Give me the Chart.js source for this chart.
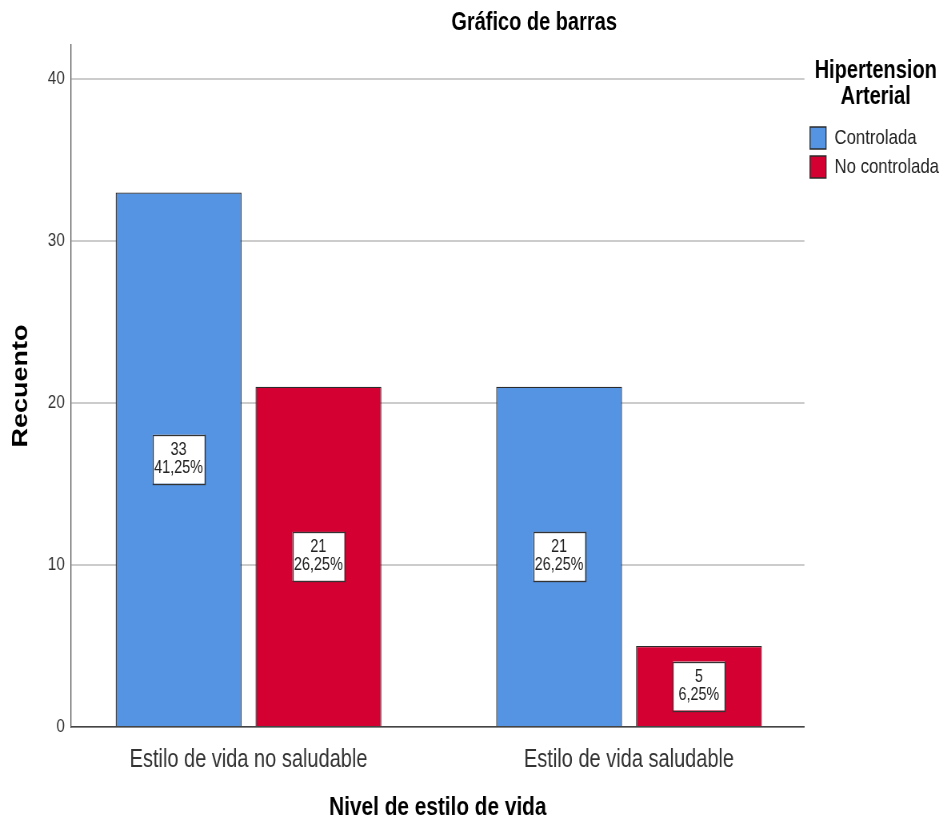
<!DOCTYPE html>
<html>
<head>
<meta charset="utf-8">
<script src="https://cdn.jsdelivr.net/npm/chart.js@4.4.0/dist/chart.umd.min.js"></script>
<style>
  html, body { margin: 0; padding: 0; background: #fff; overflow: hidden; }
  #myChart { display: block; }
</style>
</head>
<body>
<!-- drawn 1184 wide and shown at 947px, which gives the condensed look -->
<canvas id="myChart" width="1184" height="825" style="width:947px;height:825px"></canvas>
<script>
var categories = ['Estilo de vida no saludable', 'Estilo de vida saludable'];
var controlada = [33, 21];
var noControlada = [21, 5];
var yTicks = [0, 10, 20, 30, 40];
var yMax = 42.1;

var chartTitle = 'Gráfico de barras';
var font = '"Liberation Sans", Arial, sans-serif';

var total = 0;
controlada.concat(noControlada).forEach(function(v) { total += v; });

function pct(v) {
   return (v / total * 100).toFixed(2).replace('.', ',') + '%';
}

// chart title plus the white count/percent box in the middle of each bar
var barLabels = {
   id: 'barLabels',
   afterDraw: function(chart) {
      var ctx = chart.ctx;
      ctx.save();
      ctx.fillStyle = '#000';
      ctx.font = 'bold 25px ' + font;
      ctx.textAlign = 'center';
      ctx.textBaseline = 'middle';
      ctx.fillText(chartTitle, chart.width * 0.564, 23);
      ctx.restore();
   },
   afterDatasetsDraw: function(chart) {
      var ctx = chart.ctx;
      chart.data.datasets.forEach(function(ds, i) {
         var meta = chart.getDatasetMeta(i);
         meta.data.forEach(function(bar, j) {
            var v = ds.data[j];
            var cx = bar.x;
            var cy = (bar.y + bar.base) / 2;
            var w = 65, h = 49;
            ctx.save();
            ctx.fillStyle = '#fff';
            ctx.fillRect(cx - w / 2, cy - h / 2, w, h);
            ctx.strokeStyle = '#333';
            ctx.lineWidth = 1.3;
            ctx.strokeRect(Math.round(cx - w / 2) + 0.5, Math.round(cy - h / 2) + 0.5, w, h);
            ctx.fillStyle = '#222';
            ctx.font = '18px ' + font;
            ctx.textAlign = 'center';
            ctx.textBaseline = 'middle';
            ctx.fillText(String(v), cx, cy - 9);
            ctx.fillText(pct(v), cx, cy + 9);
            ctx.restore();
         });
      });
   }
};

var context = document.getElementById('myChart').getContext('2d');
var chart = new Chart(context, {
   type: 'bar',
   data: {
      labels: categories,
      datasets: [{
         label: 'Controlada',
         data: controlada,
         backgroundColor: '#5594e2',
         borderColor: '#2b2b2b',
         borderWidth: 1.3
      }, {
         label: 'No controlada',
         data: noControlada,
         backgroundColor: '#d50032',
         borderColor: '#2b2b2b',
         borderWidth: 1.3
      }]
   },
   options: {
      responsive: false,
      devicePixelRatio: 1,
      animation: false,
      categoryPercentage: 0.735,
      barPercentage: 0.9,
      layout: { padding: { top: 45, left: 0, right: 0, bottom: 0 } },
      plugins: {
         tooltip: { enabled: false },
         title: { display: false },
         legend: {
            position: 'right',
            align: 'start',
            title: {
               display: true,
               text: ['Hipertension', 'Arterial'],
               color: '#000',
               font: { family: font, size: 25, weight: 'bold', lineHeight: 1.04 },
               padding: { top: 14, bottom: 35 }
            },
            labels: {
               boxWidth: 20,
               boxHeight: 22,
               padding: 7,
               color: '#222',
               font: { family: font, size: 21 }
            }
         }
      },
      scales: {
         x: {
            grid: { display: false },
            border: { display: true, color: '#444', width: 1.5 },
            ticks: {
               color: '#333',
               padding: 10,
               font: { family: font, size: 25 }
            },
            // spread the two groups a bit wider than the default category slots
            afterBuildTicks: function(scale) {
               scale._startValue = -0.466;
               scale._valueRange = 1.927;
            },
            title: {
               display: true,
               text: 'Nivel de estilo de vida',
               color: '#000',
               font: { family: font, size: 26, weight: 'bold', lineHeight: 1.2 },
               padding: { top: 0, bottom: 2 }
            },
            afterFit: function(scale) { scale.height = 98; }
         },
         y: {
            min: 0,
            max: yMax,
            grid: { color: '#cccccc', lineWidth: 2, drawTicks: false },
            border: { display: true, color: '#555', width: 1.3 },
            ticks: {
               color: '#333',
               padding: 8,
               font: { family: font, size: 19 }
            },
            afterBuildTicks: function(scale) {
               scale.ticks = yTicks.map(function(v) { return { value: v }; });
            },
            title: {
               display: true,
               text: 'Recuento',
               color: '#000',
               font: { family: font, size: 27, weight: 'bold', lineHeight: 1.2 },
               padding: { top: 10, bottom: 0 }
            },
            afterFit: function(scale) { scale.width = 89; }
         }
      }
   },
   plugins: [barLabels]
});
</script>
</body>
</html>
